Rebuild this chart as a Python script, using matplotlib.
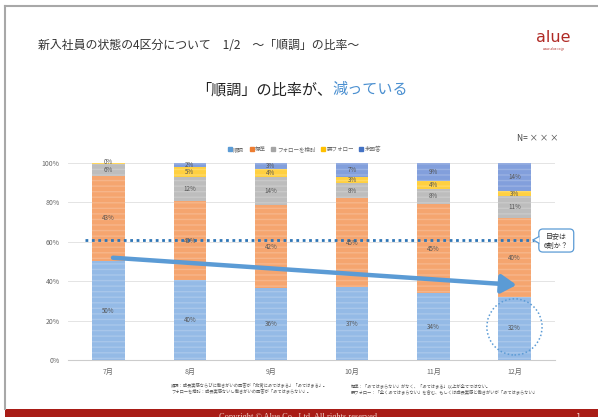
import numpy as np
import matplotlib.pyplot as plt
from matplotlib.patches import Ellipse, Rectangle, FancyBboxPatch, Polygon
from matplotlib.lines import Line2D

plt.rcParams['font.family'] = ['Noto Sans CJK JP', 'DejaVu Sans']

months = ['7月', '8月', '9月', '10月', '11月', '12月']
categories = ['順調', '標準', 'フォローを検討', '要フォロー', '未回答']
juncho = [50, 40, 36, 37, 34, 32]
hyojun = [43, 40, 42, 45, 45, 40]
follow_kento = [6, 12, 14, 8, 8, 11]
yo_follow = [0.5, 5, 4, 3, 4, 3]
mikaito = [0, 2, 3, 7, 9, 14]
guide_level = 61

series = [juncho, hyojun, follow_kento, yo_follow, mikaito]
fill_colors = ['#94bae6', '#f5a56f', '#bdbdbd', '#ffd040', '#829fdc']
legend_colors = ['#5b9bd5', '#ed7d31', '#a5a5a5', '#ffc000', '#4472c4']

fig = plt.figure(figsize=(5.98, 4.17), dpi=100)
ax = fig.add_axes([0.1137, 0.1367, 0.8145, 0.4724])

data = np.array(series, dtype=float)
totals = data.sum(axis=0)
shares = data / totals * 100
x = np.arange(len(months))
bottom = np.zeros(len(months))
for vals, share, col in zip(series, shares, fill_colors):
    ax.bar(x, share, 0.4, bottom=bottom, color=col, edgecolor='#ffffff30',
           linewidth=0, hatch='---', zorder=2)
    for xi, v, s, b in zip(x, vals, share, bottom):
        if v > 0:
            # very thin segments get their label at the top edge
            yl = b + s / 2 if v >= 2 else b + s + 0.5
            ax.text(xi, yl, f'{v:.0f}%', ha='center', va='center',
                    fontsize=4.5, color='#555555', zorder=4)
    bottom += share

ax.set_xlim(-0.5, len(months) - 0.5)
ax.set_ylim(0, 100)
ax.set_yticks(range(0, 101, 20))
ax.set_yticklabels([f'{t}%' for t in range(0, 101, 20)])
ax.set_xticks(x)
ax.set_xticklabels(months)
ax.tick_params(axis='both', length=0, labelsize=5, colors='#666666', pad=6)
ax.grid(axis='y', color='#e4e4e4', linewidth=0.7, zorder=0)
for side in ['top', 'right', 'left']:
    ax.spines[side].set_visible(False)
ax.spines['bottom'].set_color('#cccccc')

# guide line at 6割 and its callout
ax.plot([-0.29, 5.24], [guide_level, guide_level], color='#2e75b6', lw=2,
        linestyle=(0, (1, 1.3)), zorder=3, clip_on=False)
ax.add_patch(FancyBboxPatch((5.30, 54.8), 0.43, 11.7,
                            boxstyle='round,pad=0,rounding_size=0.05',
                            mutation_aspect=40, fc='white', ec='#5b9bd5',
                            lw=0.9, clip_on=False, zorder=5))
ax.add_patch(Polygon([(5.305, 59.3), (5.23, guide_level), (5.305, 62.6)],
                     closed=True, fc='white', ec='none', clip_on=False, zorder=6))
ax.plot([5.30, 5.23, 5.30], [59.3, guide_level, 62.6], color='#5b9bd5', lw=0.9,
        clip_on=False, zorder=6)
ax.text(5.515, 60.6, '目安は\n6割か？', ha='center', va='center', fontsize=5,
        color='#333333', linespacing=1.3, zorder=7, clip_on=False)

# trend arrow
ax.annotate('', xy=(5.06, 38), xytext=(0.02, 52),
            arrowprops=dict(arrowstyle='-|>,head_length=0.9,head_width=0.55',
                            color='#5b9bd5', lw=3.2), zorder=5)

# dotted circle around the last value
ax.add_patch(Ellipse((5, juncho[-1] / 2 + 0.8), 0.68, 28.5, fill=False,
                     ec='#5b9bd5', lw=1.1, linestyle=(0, (1, 1.5)), zorder=5,
                     clip_on=False))

handles = [Line2D([], [], marker='s', linestyle='', color=c, markersize=2.5)
           for c in legend_colors]
fig.legend(handles, categories, loc='center', bbox_to_anchor=(0.508, 0.643),
           ncol=5, frameon=False, fontsize=4, handletextpad=0.05,
           columnspacing=0.7, labelcolor='#666666', handlelength=1.2)

# slide decoration
fig.add_artist(Line2D([0.009, 0.009], [0.02, 0.985], color='#a8a8a8', lw=1.5))
fig.add_artist(Line2D([0.009, 1.0], [0.985, 0.985], color='#a8a8a8', lw=1.5))
fig.add_artist(Rectangle((0.009, 0.0), 0.991, 0.0195, color='#a81c16', lw=0))
fig.text(0.5, 0.0, 'Copyright © Alue Co., Ltd. All rights reserved.',
         ha='center', va='center', fontsize=6, color='#f0d0c8',
         family='Liberation Serif')
fig.text(0.98, 0.0, '- 1 -', ha='right', va='center', fontsize=6.5,
         color='#f0d0c8')

fig.text(0.064, 0.892, '新入社員の状態の4区分について　1/2　～「順調」の比率～',
         ha='left', va='center', fontsize=8.6, color='#333333')
fig.text(0.926, 0.91, 'alue', ha='center', va='center', fontsize=11.5,
         color='#b02a25', family='DejaVu Sans')
fig.text(0.926, 0.882, 'www.alue.co.jp', ha='center', va='center', fontsize=2.2,
         color='#b02a25')
fig.text(0.555, 0.785, '「順調」の比率が、', ha='right', va='center',
         fontsize=10.9, color='#222222')
fig.text(0.555, 0.785, '減っている', ha='left', va='center',
         fontsize=10.9, color='#4a8fd0')
fig.text(0.9, 0.668, 'N= × × ×', ha='center', va='center', fontsize=6,
         color='#444444')

fig.text(0.286, 0.076, '順調：成長実感ならびに働きがいの回答が「非常にあてはまる」「あてはまる」。',
         ha='left', va='center', fontsize=3.1, color='#555555')
fig.text(0.286, 0.061, 'フォローを検討：成長実感ないし働きがいの回答が「あてはまらない」。',
         ha='left', va='center', fontsize=3.1, color='#555555')
fig.text(0.587, 0.076, '標準：「あてはまらない」がなく、「あてはまる」以上が全てではない。',
         ha='left', va='center', fontsize=3.1, color='#555555')
fig.text(0.587, 0.061, '要フォロー：「全くあてはまらない」を含む、もしくは成長実感と働きがいが「あてはまらない」',
         ha='left', va='center', fontsize=3.1, color='#555555')

fig.savefig('out.png', dpi=100)
